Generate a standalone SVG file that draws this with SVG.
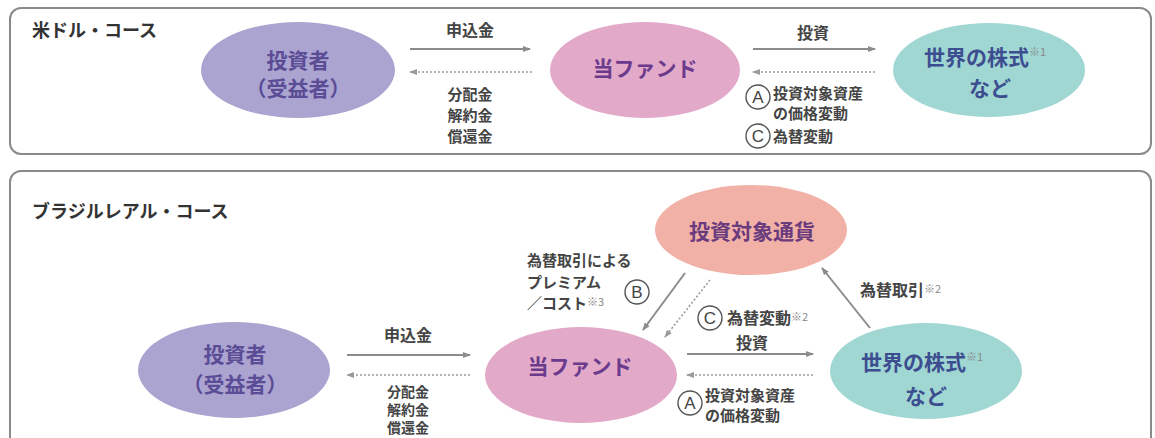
<svg xmlns="http://www.w3.org/2000/svg" width="1155" height="438" viewBox="0 0 1155 438">
<style>
text{font-family:"Noto Sans CJK JP","Noto Sans",sans-serif;}
.panel{fill:#fff;stroke:#8a8a8a;stroke-width:2;}
.title{font-size:18px;font-weight:700;fill:#333;}
.node{font-size:21px;font-weight:700;text-anchor:middle;}
.lbl{font-size:16px;font-weight:700;fill:#444;}
.st{font-size:15px;}
.sm{font-size:14px;}
.mid{text-anchor:middle;}
.sup{font-size:11px;font-weight:400;fill:#888;}
.solid{stroke:#8c8c8c;stroke-width:2;fill:none;marker-end:url(#ah);}
.dash{stroke:#9a9a9a;stroke-width:1.6;fill:none;stroke-dasharray:2 2;marker-end:url(#ah2);}
.circ{fill:#fff;stroke:#555;stroke-width:1.4;}
.cl{font-size:17px;font-weight:400;fill:#444;text-anchor:middle;font-family:"Liberation Sans",sans-serif;}
</style>
<defs>
<marker id="ah" markerWidth="8" markerHeight="8" refX="7" refY="4" orient="auto" markerUnits="userSpaceOnUse"><path d="M0,1 L8,4 L0,7 z" fill="#8c8c8c"/></marker>
<marker id="ah2" markerWidth="8" markerHeight="8" refX="7" refY="4" orient="auto" markerUnits="userSpaceOnUse"><path d="M0,1 L8,4 L0,7 z" fill="#9a9a9a"/></marker>
</defs>
<rect width="1155" height="438" fill="#fff"/>
<g id="panel-usd">
<rect class="panel" x="10" y="8" width="1141" height="146" rx="11"/>
<text class="title" x="32" y="37">米ドル・コース</text>
</g>
<g id="panel-brl">
<rect class="panel" x="10" y="171" width="1141" height="290" rx="11"/>
<text class="title" x="32" y="218">ブラジルレアル・コース</text>
</g>
<g id="usd-investor">
<ellipse cx="298" cy="70" rx="97" ry="48" fill="#aba4d0"/>
<text class="node" x="298" y="68" fill="#5b4c96">投資者</text>
<text class="node" x="298" y="96" fill="#5b4c96">（受益者）</text>
</g>
<g id="usd-fund">
<ellipse cx="645" cy="70" rx="95" ry="48" fill="#e3a9c9"/>
<text class="node" x="645" y="76" fill="#6a3b8c">当ファンド</text>
</g>
<g id="usd-world">
<ellipse cx="989" cy="70" rx="96" ry="47" fill="#a0d7d3"/>
<text class="node" x="985" y="65" fill="#3d4e90">世界の株式<tspan class="sup" dy="-9" fill="#7d86b0">※1</tspan></text>
<text class="node" x="990" y="96" fill="#3d4e90">など</text>
</g>
<g id="brl-investor">
<ellipse cx="234" cy="370" rx="96" ry="48" fill="#aba4d0"/>
<text class="node" x="235" y="362" fill="#5b4c96">投資者</text>
<text class="node" x="235" y="392" fill="#5b4c96">（受益者）</text>
</g>
<g id="brl-fund">
<ellipse cx="581" cy="375" rx="96" ry="48" fill="#e3a9c9"/>
<text class="node" x="580" y="374" fill="#6a3b8c">当ファンド</text>
</g>
<g id="brl-currency">
<ellipse cx="751" cy="230" rx="96" ry="45" fill="#f2b1a7"/>
<text class="node" x="752" y="239" fill="#6a3b7d">投資対象通貨</text>
</g>
<g id="brl-world">
<ellipse cx="926" cy="371" rx="96" ry="48" fill="#a0d7d3"/>
<text class="node" x="922" y="370" fill="#3d4e90">世界の株式<tspan class="sup" dy="-9" fill="#7d86b0">※1</tspan></text>
<text class="node" x="926" y="404" fill="#3d4e90">など</text>
</g>
<g id="connectors">
<line class="solid" x1="410" y1="49" x2="530" y2="49"/>
<line class="dash" x1="532" y1="72" x2="410" y2="72"/>
<line class="solid" x1="753" y1="49" x2="875" y2="49"/>
<line class="dash" x1="875" y1="72" x2="753" y2="72"/>
<line class="solid" x1="347" y1="355" x2="470" y2="355"/>
<line class="dash" x1="470" y1="375" x2="347" y2="375"/>
<line class="solid" x1="687" y1="354" x2="813" y2="354"/>
<line class="dash" x1="813" y1="375" x2="687" y2="375"/>
<line class="solid" x1="685" y1="273" x2="643" y2="330"/>
<line class="dash" x1="710" y1="280" x2="665" y2="337"/>
<line class="solid" x1="870" y1="328" x2="822" y2="268"/>
</g>
<g id="labels">
<text class="lbl mid" x="470" y="36">申込金</text>
<text class="lbl st mid" x="470" y="100">分配金</text>
<text class="lbl st mid" x="470" y="121">解約金</text>
<text class="lbl st mid" x="470" y="142">償還金</text>
<text class="lbl mid" x="813" y="39">投資</text>
<circle class="circ" cx="758" cy="97" r="12"/><text class="cl" x="758" y="103">A</text>
<text class="lbl st" x="773" y="99">投資対象資産</text>
<text class="lbl st" x="773" y="119">の価格変動</text>
<circle class="circ" cx="758" cy="136" r="12"/><text class="cl" x="758" y="142">C</text>
<text class="lbl st" x="773" y="142">為替変動</text>
<text class="lbl mid" x="408" y="341">申込金</text>
<text class="lbl sm mid" x="408" y="397">分配金</text>
<text class="lbl sm mid" x="408" y="415">解約金</text>
<text class="lbl sm mid" x="408" y="433">償還金</text>
<text class="lbl mid" x="752" y="349">投資</text>
<circle class="circ" cx="690" cy="403" r="12"/><text class="cl" x="690" y="409">A</text>
<text class="lbl st" x="705" y="401">投資対象資産</text>
<text class="lbl st" x="705" y="421">の価格変動</text>
<text class="lbl st" x="527" y="266">為替取引による</text>
<text class="lbl st" x="527" y="288">プレミアム</text>
<text class="lbl st" x="527" y="309">／コスト<tspan class="sup" dy="-3">※3</tspan></text>
<circle class="circ" cx="637" cy="292" r="12"/><text class="cl" x="637" y="298">B</text>
<circle class="circ" cx="710" cy="318" r="12"/><text class="cl" x="710" y="324">C</text>
<text class="lbl" x="727" y="324">為替変動<tspan class="sup" dy="-3">※2</tspan></text>
<text class="lbl" x="860" y="296">為替取引<tspan class="sup" dy="-3">※2</tspan></text>
</g>
</svg>
